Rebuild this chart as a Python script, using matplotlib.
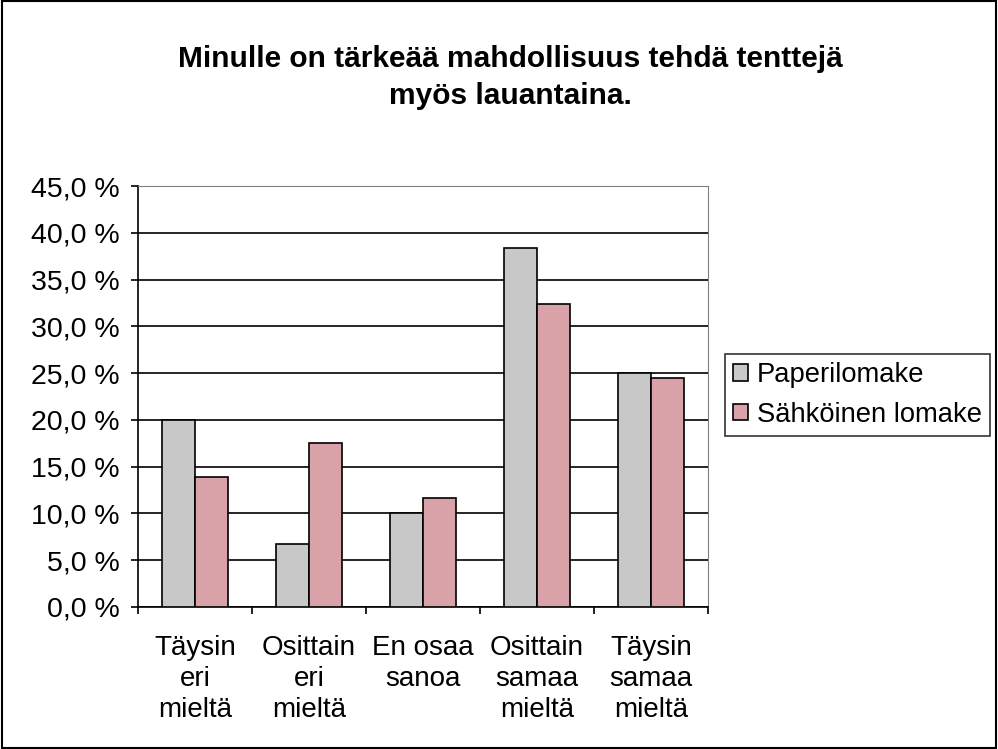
import numpy as np
import matplotlib.pyplot as plt
from matplotlib.ticker import FuncFormatter

categories = ["Täysin\neri\nmieltä", "Osittain\neri\nmieltä", "En osaa\nsanoa",
              "Osittain\nsamaa\nmieltä", "Täysin\nsamaa\nmieltä"]
paperi = [20.0, 6.7, 10.0, 38.4, 25.0]
sahkoinen = [13.9, 17.5, 11.7, 32.4, 24.5]
series_names = ["Paperilomake", "Sähköinen lomake"]

plt.rcParams['font.family'] = ['Liberation Sans', 'DejaVu Sans']

fig = plt.figure(figsize=(9.98, 7.49), dpi=100)
# outer border of chart
fig.patches.append(plt.Rectangle((0.002, 0.002), 0.996, 0.996, transform=fig.transFigure,
                                 fill=False, edgecolor='black', linewidth=1.5))

ax = fig.add_axes([138 / 998, 1 - 607 / 749, 570 / 998, 421 / 749])
x = np.arange(len(categories))
w = 0.29
ax.bar(x - w / 2, paperi, w, color='#c8c8c8', edgecolor='black', linewidth=1.2,
       label=series_names[0], zorder=3)
ax.bar(x + w / 2, sahkoinen, w, color='#d9a2a8', edgecolor='black', linewidth=1.2,
       label=series_names[1], zorder=3)

ax.set_xlim(-0.5, len(categories) - 0.5)
ax.set_ylim(0, 45)
ax.set_yticks(np.arange(0, 46, 5))
ax.yaxis.set_major_formatter(FuncFormatter(lambda v, p: f"{v:.1f} %".replace('.', ',')))
ax.grid(axis='y', color='black', linewidth=1.2, zorder=0)
ax.set_xticks(np.arange(len(categories) + 1) - 0.5, minor=False)
ax.set_xticklabels([])
ax.set_xticks(x, minor=True)
ax.set_xticklabels(categories, minor=True, fontsize=20, linespacing=1.25)
ax.tick_params(axis='x', which='minor', length=0, pad=20)
ax.tick_params(axis='x', which='major', length=5, width=1.2, direction='out')
ax.tick_params(axis='y', length=5, width=1.2, labelsize=20.5, pad=8)

ax.spines['top'].set_color('#808080')
ax.spines['right'].set_color('#808080')
ax.spines['left'].set_linewidth(1.2)
ax.spines['bottom'].set_linewidth(1.2)

fig.text(0.511, 0.896, "Minulle on tärkeää mahdollisuus tehdä tenttejä\nmyös lauantaina.",
         ha='center', va='center', fontsize=21.5, fontweight='bold', linespacing=1.4)

leg = ax.legend(loc='center left', bbox_to_anchor=(1.03, 0.504), fontsize=19.7,
                frameon=True, fancybox=False, edgecolor='black', handlelength=0.55,
                handleheight=0.55, handletextpad=0.3, borderpad=0.3, labelspacing=0.5,
                borderaxespad=0)
leg.get_frame().set_linewidth(1.2)

fig.savefig('out.png', dpi=100)
